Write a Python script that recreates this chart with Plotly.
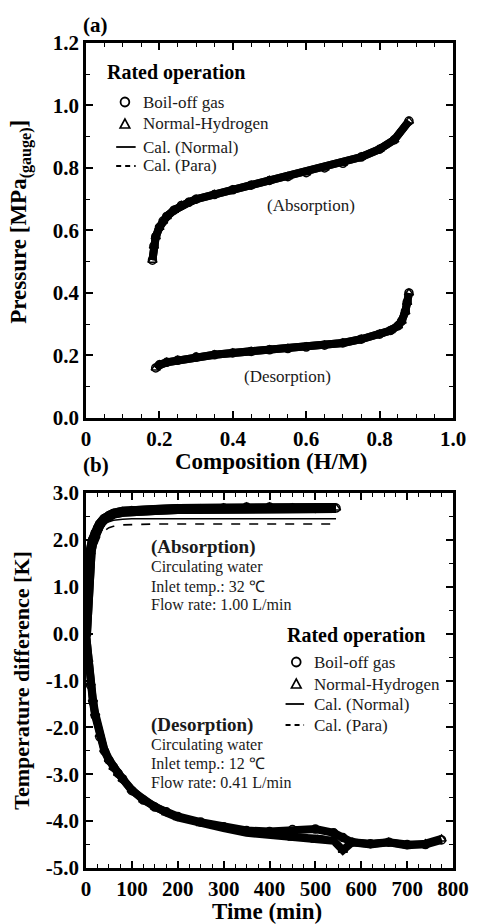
import plotly.graph_objects as go

FONT = "Liberation Serif"

# ---------------- Panel (a): P-C isotherms ----------------
comp_abs = [0.181, 0.185, 0.19, 0.20, 0.21, 0.22, 0.24, 0.26, 0.28, 0.30, 0.35, 0.40, 0.45,
            0.50, 0.55, 0.60, 0.65, 0.70, 0.75, 0.80, 0.84, 0.88]
p_abs = [0.505, 0.55, 0.58, 0.61, 0.63, 0.645, 0.665, 0.68, 0.69, 0.70, 0.715, 0.73, 0.745,
         0.76, 0.772, 0.785, 0.80, 0.815, 0.835, 0.86, 0.89, 0.95]
comp_des = [0.19, 0.20, 0.22, 0.25, 0.30, 0.35, 0.40, 0.45, 0.50, 0.55, 0.60, 0.65, 0.70,
            0.75, 0.80, 0.83, 0.85, 0.86, 0.87, 0.875, 0.88]
p_des = [0.16, 0.17, 0.178, 0.185, 0.195, 0.202, 0.208, 0.213, 0.218, 0.222, 0.227, 0.233,
         0.24, 0.252, 0.268, 0.28, 0.295, 0.31, 0.34, 0.37, 0.40]

# ---------------- Panel (b): temperature difference ----------------
t_abs = [0, 2, 4, 7, 10, 15, 20, 25, 30, 40, 50, 60, 80, 100, 150, 200, 250, 300, 350,
         400, 450, 500, 545]
dT_abs_meas = [0, 0.55, 1.05, 1.45, 1.75, 2.0, 2.15, 2.25, 2.33, 2.45, 2.52, 2.56, 2.6,
               2.62, 2.64, 2.66, 2.66, 2.68, 2.7, 2.7, 2.68, 2.67, 2.68]

t_cal_abs = [0, 5, 10, 15, 20, 30, 40, 50, 60, 80, 100, 150, 200, 300, 400, 545]
dT_abs_cal_normal = [0, 0.85, 1.45, 1.8, 2.02, 2.24, 2.34, 2.39, 2.42, 2.44, 2.45, 2.45,
                     2.45, 2.45, 2.45, 2.45]
dT_abs_cal_para = [0, 0.7, 1.25, 1.6, 1.83, 2.07, 2.19, 2.26, 2.29, 2.32, 2.33, 2.34,
                   2.34, 2.34, 2.34, 2.34]

t_des = [0, 5, 10, 15, 20, 30, 40, 50, 60, 70, 80, 100, 125, 150, 175, 200, 250, 300, 350,
         400, 450, 500, 540, 560, 580, 620, 660, 700, 740, 775]
dT_des_boiloff = [0, -0.6, -1.1, -1.45, -1.75, -2.2, -2.5, -2.7, -2.85, -2.98, -3.1, -3.35,
                  -3.55, -3.7, -3.8, -3.9, -4.02, -4.12, -4.2, -4.22, -4.18, -4.17, -4.25,
                  -4.35, -4.45, -4.48, -4.45, -4.5, -4.5, -4.4]
dT_des_normal = [0, -0.55, -1.05, -1.4, -1.7, -2.15, -2.47, -2.68, -2.85, -2.98, -3.1, -3.33,
                 -3.55, -3.7, -3.82, -3.92, -4.05, -4.15, -4.25, -4.3, -4.36, -4.4, -4.42,
                 -4.62, -4.45, -4.5, -4.45, -4.52, -4.48, -4.38]
t_cal_des = [0, 10, 20, 40, 60, 100, 150, 200, 300, 400, 500, 600, 700, 775]
dT_des_cal_normal = [0, -1.1, -1.75, -2.5, -2.85, -3.35, -3.7, -3.9, -4.12, -4.27, -4.3,
                     -4.45, -4.48, -4.45]
dT_des_cal_para = [0, -1.05, -1.7, -2.45, -2.82, -3.33, -3.68, -3.88, -4.1, -4.25, -4.3,
                   -4.44, -4.47, -4.45]

# ---------------- Axis ticks ----------------
xa_ticks = [0, 0.2, 0.4, 0.6, 0.8, 1.0]
xa_labels = ["0", "0.2", "0.4", "0.6", "0.8", "1.0"]
ya_ticks = [0, 0.2, 0.4, 0.6, 0.8, 1.0, 1.2]
ya_labels = ["0.0", "0.2", "0.4", "0.6", "0.8", "1.0", "1.2"]
xb_ticks = [0, 100, 200, 300, 400, 500, 600, 700, 800]
xb_labels = ["0", "100", "200", "300", "400", "500", "600", "700", "800"]
yb_ticks = [-5, -4, -3, -2, -1, 0, 1, 2, 3]
yb_labels = ["-5.0", "-4.0", "-3.0", "-2.0", "-1.0", "0.0", "1.0", "2.0", "3.0"]

legend_title = "Rated operation"
legend_names = ["Boil-off gas", "Normal-Hydrogen", "Cal. (Normal)", "Cal. (Para)"]

fig = go.Figure()


def band(x, y, xa, ya, symbol, width=8):
    fig.add_trace(go.Scatter(
        x=x, y=y, xaxis=xa, yaxis=ya, mode="lines+markers", showlegend=False,
        line=dict(color="black", width=width),
        marker=dict(symbol=symbol, size=8, color="black", line=dict(color="black", width=1.5)),
        hoverinfo="skip"))


def cal(x, y, xa, ya, dash):
    fig.add_trace(go.Scatter(
        x=x, y=y, xaxis=xa, yaxis=ya, mode="lines", showlegend=False,
        line=dict(color="black", width=1.6, dash=dash), hoverinfo="skip"))


# panel (a)
cal(comp_abs, p_abs, "x", "y", "solid")
cal(comp_des, p_des, "x", "y", "dash")
band(comp_abs, p_abs, "x", "y", "circle-open")
band(comp_abs, p_abs, "x", "y", "triangle-up-open")
band(comp_des, p_des, "x", "y", "circle-open")
band(comp_des, p_des, "x", "y", "triangle-up-open")

# panel (b)
cal(t_cal_abs, dT_abs_cal_normal, "x2", "y2", "solid")
cal(t_cal_abs, dT_abs_cal_para, "x2", "y2", "dash")
band(t_abs, dT_abs_meas, "x2", "y2", "circle-open", width=10)
band(t_abs, dT_abs_meas, "x2", "y2", "triangle-up-open", width=10)
cal(t_cal_des, dT_des_cal_normal, "x2", "y2", "solid")
cal(t_cal_des, dT_des_cal_para, "x2", "y2", "dash")
band(t_des, dT_des_boiloff, "x2", "y2", "circle-open", width=8)
band(t_des, dT_des_normal, "x2", "y2", "triangle-up-open", width=8)


def bold(labels):
    return ["<b>%s</b>" % s for s in labels]


TICKFONT = dict(family=FONT, size=21, color="black")


def axis(**kw):
    d = dict(showline=True, linewidth=2.5, linecolor="black", mirror="allticks",
             ticks="inside", ticklen=7, tickwidth=1.5, tickcolor="black",
             showgrid=False, zeroline=False, tickfont=TICKFONT, tickmode="array")
    d.update(kw)
    return d


MINOR = dict(ticks="inside", ticklen=4, tickwidth=1, tickcolor="black")

fig.update_layout(
    width=481, height=924, autosize=False,
    margin=dict(l=86, r=18, t=43, b=56),
    paper_bgcolor="white", plot_bgcolor="white",
    font=dict(family=FONT, color="black"),
    showlegend=False,
    xaxis=axis(domain=[0, 1], anchor="y", range=[0, 1], tickvals=xa_ticks,
               ticktext=bold(xa_labels), minor=dict(dtick=0.05, **MINOR)),
    yaxis=axis(domain=[0.5455, 1], anchor="x", range=[0, 1.2], tickvals=ya_ticks,
               ticktext=bold(ya_labels), minor=dict(dtick=0.1, **MINOR)),
    xaxis2=axis(domain=[0, 1], anchor="y2", range=[0, 800], tickvals=xb_ticks,
                ticktext=bold(xb_labels), minor=dict(dtick=25, **MINOR)),
    yaxis2=axis(domain=[0, 0.4545], anchor="x2", range=[-5, 3], tickvals=yb_ticks,
                ticktext=bold(yb_labels), minor=dict(dtick=0.5, **MINOR)),
)

L, R, T, B = 86, 463, 43, 868


def X(px):
    return (px - L) / (R - L)


def Y(py):
    return (B - py) / (B - T)


ann = []
shapes = []


def paper_text(px, py, text, size, angle=0, xanchor="center", color="black"):
    ann.append(dict(x=X(px), y=Y(py), xref="paper", yref="paper", text=text, showarrow=False,
                    textangle=angle, xanchor=xanchor, yanchor="middle",
                    font=dict(family=FONT, size=size, color=color)))


def data_text(x, y, xr, yr, text, size, xanchor="left", color="#1a1a1a"):
    ann.append(dict(x=x, y=y, xref=xr, yref=yr, text=text, showarrow=False,
                    xanchor=xanchor, yanchor="middle",
                    font=dict(family=FONT, size=size, color=color)))


def legend_block(title_x, title_y, sym_x, text_x, item_ys, line_x0, line_x1):
    paper_text(title_x - 2, title_y, "<b>%s</b>" % legend_title, 20, xanchor="left")
    for name, yy in zip(legend_names, item_ys):
        paper_text(text_x - 2, yy, name, 17, xanchor="left", color="#1a1a1a")
    r = 4.5
    # circle
    shapes.append(dict(type="circle", xref="paper", yref="paper",
                       x0=X(sym_x - r), x1=X(sym_x + r), y0=Y(item_ys[0] + r),
                       y1=Y(item_ys[0] - r), line=dict(color="black", width=1.8)))
    # triangle
    ty = item_ys[1]
    shapes.append(dict(type="path", xref="paper", yref="paper",
                       path="M %f,%f L %f,%f L %f,%f Z" % (
                           X(sym_x - 5), Y(ty + 4), X(sym_x + 5), Y(ty + 4), X(sym_x), Y(ty - 5)),
                       line=dict(color="black", width=1.6)))
    # solid line
    shapes.append(dict(type="line", xref="paper", yref="paper",
                       x0=X(line_x0), x1=X(line_x1), y0=Y(item_ys[2]), y1=Y(item_ys[2]),
                       line=dict(color="black", width=1.8)))
    # dashed line
    shapes.append(dict(type="line", xref="paper", yref="paper",
                       x0=X(line_x0), x1=X(line_x1), y0=Y(item_ys[3]), y1=Y(item_ys[3]),
                       line=dict(color="black", width=1.8, dash="5px,4px")))


legend_block(108, 72, 126, 145, [102, 124, 147, 166], 117, 137)
legend_block(292, 635, 302, 320, [662, 684, 704, 725], 291, 310)

paper_text(96, 25, "<b>(a)</b>", 21)
paper_text(96, 465, "<b>(b)</b>", 21)
paper_text(276, 462, "<b>Composition (H/M)</b>", 23)
paper_text(272, 911, "<b>Time (min)</b>", 23)
paper_text(19, 222, "<b>Pressure [MPa<sub>(gauge)</sub>]</b>", 23, angle=-90)
paper_text(19, 680, "<b>Temperature difference [K]</b>", 22, angle=-90)

data_text(0.612, 0.68, "x", "y", "(Absorption)", 17, xanchor="center")
data_text(0.548, 0.134, "x", "y", "(Desorption)", 17, xanchor="center")

data_text(138, 1.85, "x2", "y2", "<b>(Absorption)</b>", 19)
data_text(138, 1.43, "x2", "y2", "Circulating water", 16)
data_text(138, 1.00, "x2", "y2", "Inlet temp.: 32 ℃", 16)
data_text(138, 0.62, "x2", "y2", "Flow rate: 1.00 L/min", 16)
data_text(138, -1.94, "x2", "y2", "<b>(Desorption)</b>", 19)
data_text(138, -2.38, "x2", "y2", "Circulating water", 16)
data_text(138, -2.79, "x2", "y2", "Inlet temp.: 12 ℃", 16)
data_text(138, -3.17, "x2", "y2", "Flow rate: 0.41 L/min", 16)

fig.update_layout(annotations=ann, shapes=shapes)

fig.write_html("out.html")
